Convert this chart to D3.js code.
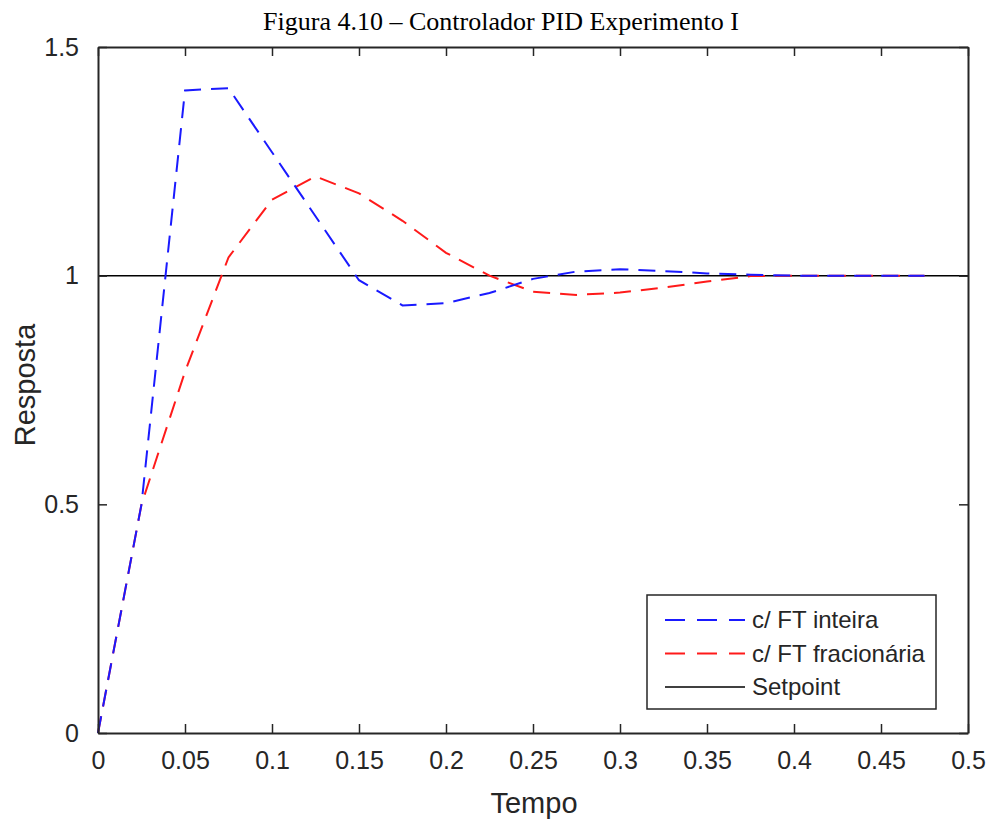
<!DOCTYPE html>
<html>
<head>
<meta charset="utf-8">
<script src="https://cdn.jsdelivr.net/npm/d3@7"></script>
<style>
body{margin:0;background:#fff;}
</style>
</head>
<body>
<div id="chart"></div>
<script>
(function(){

const width = 987;
const height = 819;
const margin = {top:47,right:19,bottom:86,left:98};

// data
const tempo = [0,0.025,0.05,0.075,0.1,0.125,0.15,0.175,0.2,0.225,0.25,0.275,0.3,0.325,0.35,0.375,0.4,0.425,0.45,0.475];
const inteira = [0,0.50,1.405,1.41,1.27,1.13,0.99,0.935,0.94,0.962,0.993,1.009,1.014,1.01,1.005,1.002,1.0,1.0,1.0,1.0];
const fracionaria = [0,0.50,0.79,1.04,1.166,1.217,1.18,1.12,1.05,1.0,0.965,0.958,0.963,0.974,0.987,0.999,1.0,1.0,1.0,1.0];
const setpoint = [{t:0,v:1},{t:0.5,v:1}];
const xTicks = [0,0.05,0.1,0.15,0.2,0.25,0.3,0.35,0.4,0.45,0.5];
const yTicks = [0,0.5,1,1.5];
const legendLabels = ["c/ FT inteira","c/ FT fracionária","Setpoint"];

const axisColor = "#262626";

const svg = d3.select("#chart")
.append("svg")
.attr("width",width)
.attr("height",height)
.style("font-family","'Liberation Sans', Arial, sans-serif");

const x = d3.scaleLinear()
.domain([0,0.5])
.range([margin.left,width-margin.right]);

const y = d3.scaleLinear()
.domain([0,1.5])
.range([height-margin.bottom,margin.top]);

// title
svg.append("text")
.attr("x",501)
.attr("y",30)
.attr("text-anchor","middle")
.attr("font-family","'Liberation Serif','Times New Roman',serif")
.attr("font-size","26px")
.attr("fill","#000")
.text("Figura 4.10 \u2013 Controlador PID Experimento I");

// lines
const line = d3.line()
.x(d=>x(d.t))
.y(d=>y(d.v));

const serie1 = tempo.map((t,i)=>({t:t,v:inteira[i]}));
const serie2 = tempo.map((t,i)=>({t:t,v:fracionaria[i]}));

svg.append("path")
.datum(setpoint)
.attr("d",line)
.attr("fill","none")
.attr("stroke","#000")
.attr("stroke-width",1.5);

svg.append("path")
.datum(serie2)
.attr("d",line)
.attr("fill","none")
.attr("stroke","#ff1a1a")
.attr("stroke-width",2)
.attr("stroke-dasharray","17,10");

svg.append("path")
.datum(serie1)
.attr("d",line)
.attr("fill","none")
.attr("stroke","#1a1aff")
.attr("stroke-width",2)
.attr("stroke-dasharray","17,10");

// axes (box with ticks inside)
const tickLen = 9;
const fmt = d3.format("~g");

const gx = svg.append("g")
.attr("transform",`translate(0,${height-margin.bottom})`)
.call(d3.axisBottom(x).tickValues(xTicks).tickFormat(fmt).tickSizeInner(-tickLen).tickSizeOuter(0).tickPadding(18));

const gxTop = svg.append("g")
.attr("transform",`translate(0,${margin.top})`)
.call(d3.axisTop(x).tickValues(xTicks).tickFormat("").tickSizeInner(-tickLen).tickSizeOuter(0));

const gy = svg.append("g")
.attr("transform",`translate(${margin.left},0)`)
.call(d3.axisLeft(y).tickValues(yTicks).tickFormat(fmt).tickSizeInner(-tickLen).tickSizeOuter(0).tickPadding(19));

const gyRight = svg.append("g")
.attr("transform",`translate(${width-margin.right},0)`)
.call(d3.axisRight(y).tickValues(yTicks).tickFormat("").tickSizeInner(-tickLen).tickSizeOuter(0));

[gx,gxTop,gy,gyRight].forEach(g=>{
g.selectAll("path").attr("stroke",axisColor).attr("stroke-width",2);
g.selectAll("line").attr("stroke",axisColor).attr("stroke-width",1.5);
g.selectAll("text")
.attr("font-family","'Liberation Sans', Arial, sans-serif")
.attr("font-size","25px")
.attr("fill",axisColor);
});

// x label
svg.append("text")
.attr("x",534)
.attr("y",813)
.attr("text-anchor","middle")
.attr("font-size","29px")
.attr("fill",axisColor)
.text("Tempo");

// y label
svg.append("text")
.attr("transform","rotate(-90)")
.attr("x",-385)
.attr("y",35)
.attr("text-anchor","middle")
.attr("font-size","29px")
.attr("fill",axisColor)
.text("Resposta");

// legend
const legend = svg.append("g").attr("transform","translate(647,595)");

legend.append("rect")
.attr("width",289)
.attr("height",114)
.attr("fill","#fff")
.attr("stroke",axisColor)
.attr("stroke-width",1.5);

const legendStyles = [
{color:"#1a1aff",dash:"20,12"},
{color:"#ff1a1a",dash:"20,12"},
{color:"#000",dash:null}
];

legendLabels.forEach((lab,i)=>{
const yy = 25 + i*33.5;
legend.append("line")
.attr("x1",18)
.attr("x2",98)
.attr("y1",yy)
.attr("y2",yy)
.attr("stroke",legendStyles[i].color)
.attr("stroke-width",legendStyles[i].dash ? 2 : 1.5)
.attr("stroke-dasharray",legendStyles[i].dash);
legend.append("text")
.attr("x",105)
.attr("y",yy+8)
.attr("font-size","24px")
.attr("fill",axisColor)
.text(lab);
});

})();
</script>
</body>
</html>
